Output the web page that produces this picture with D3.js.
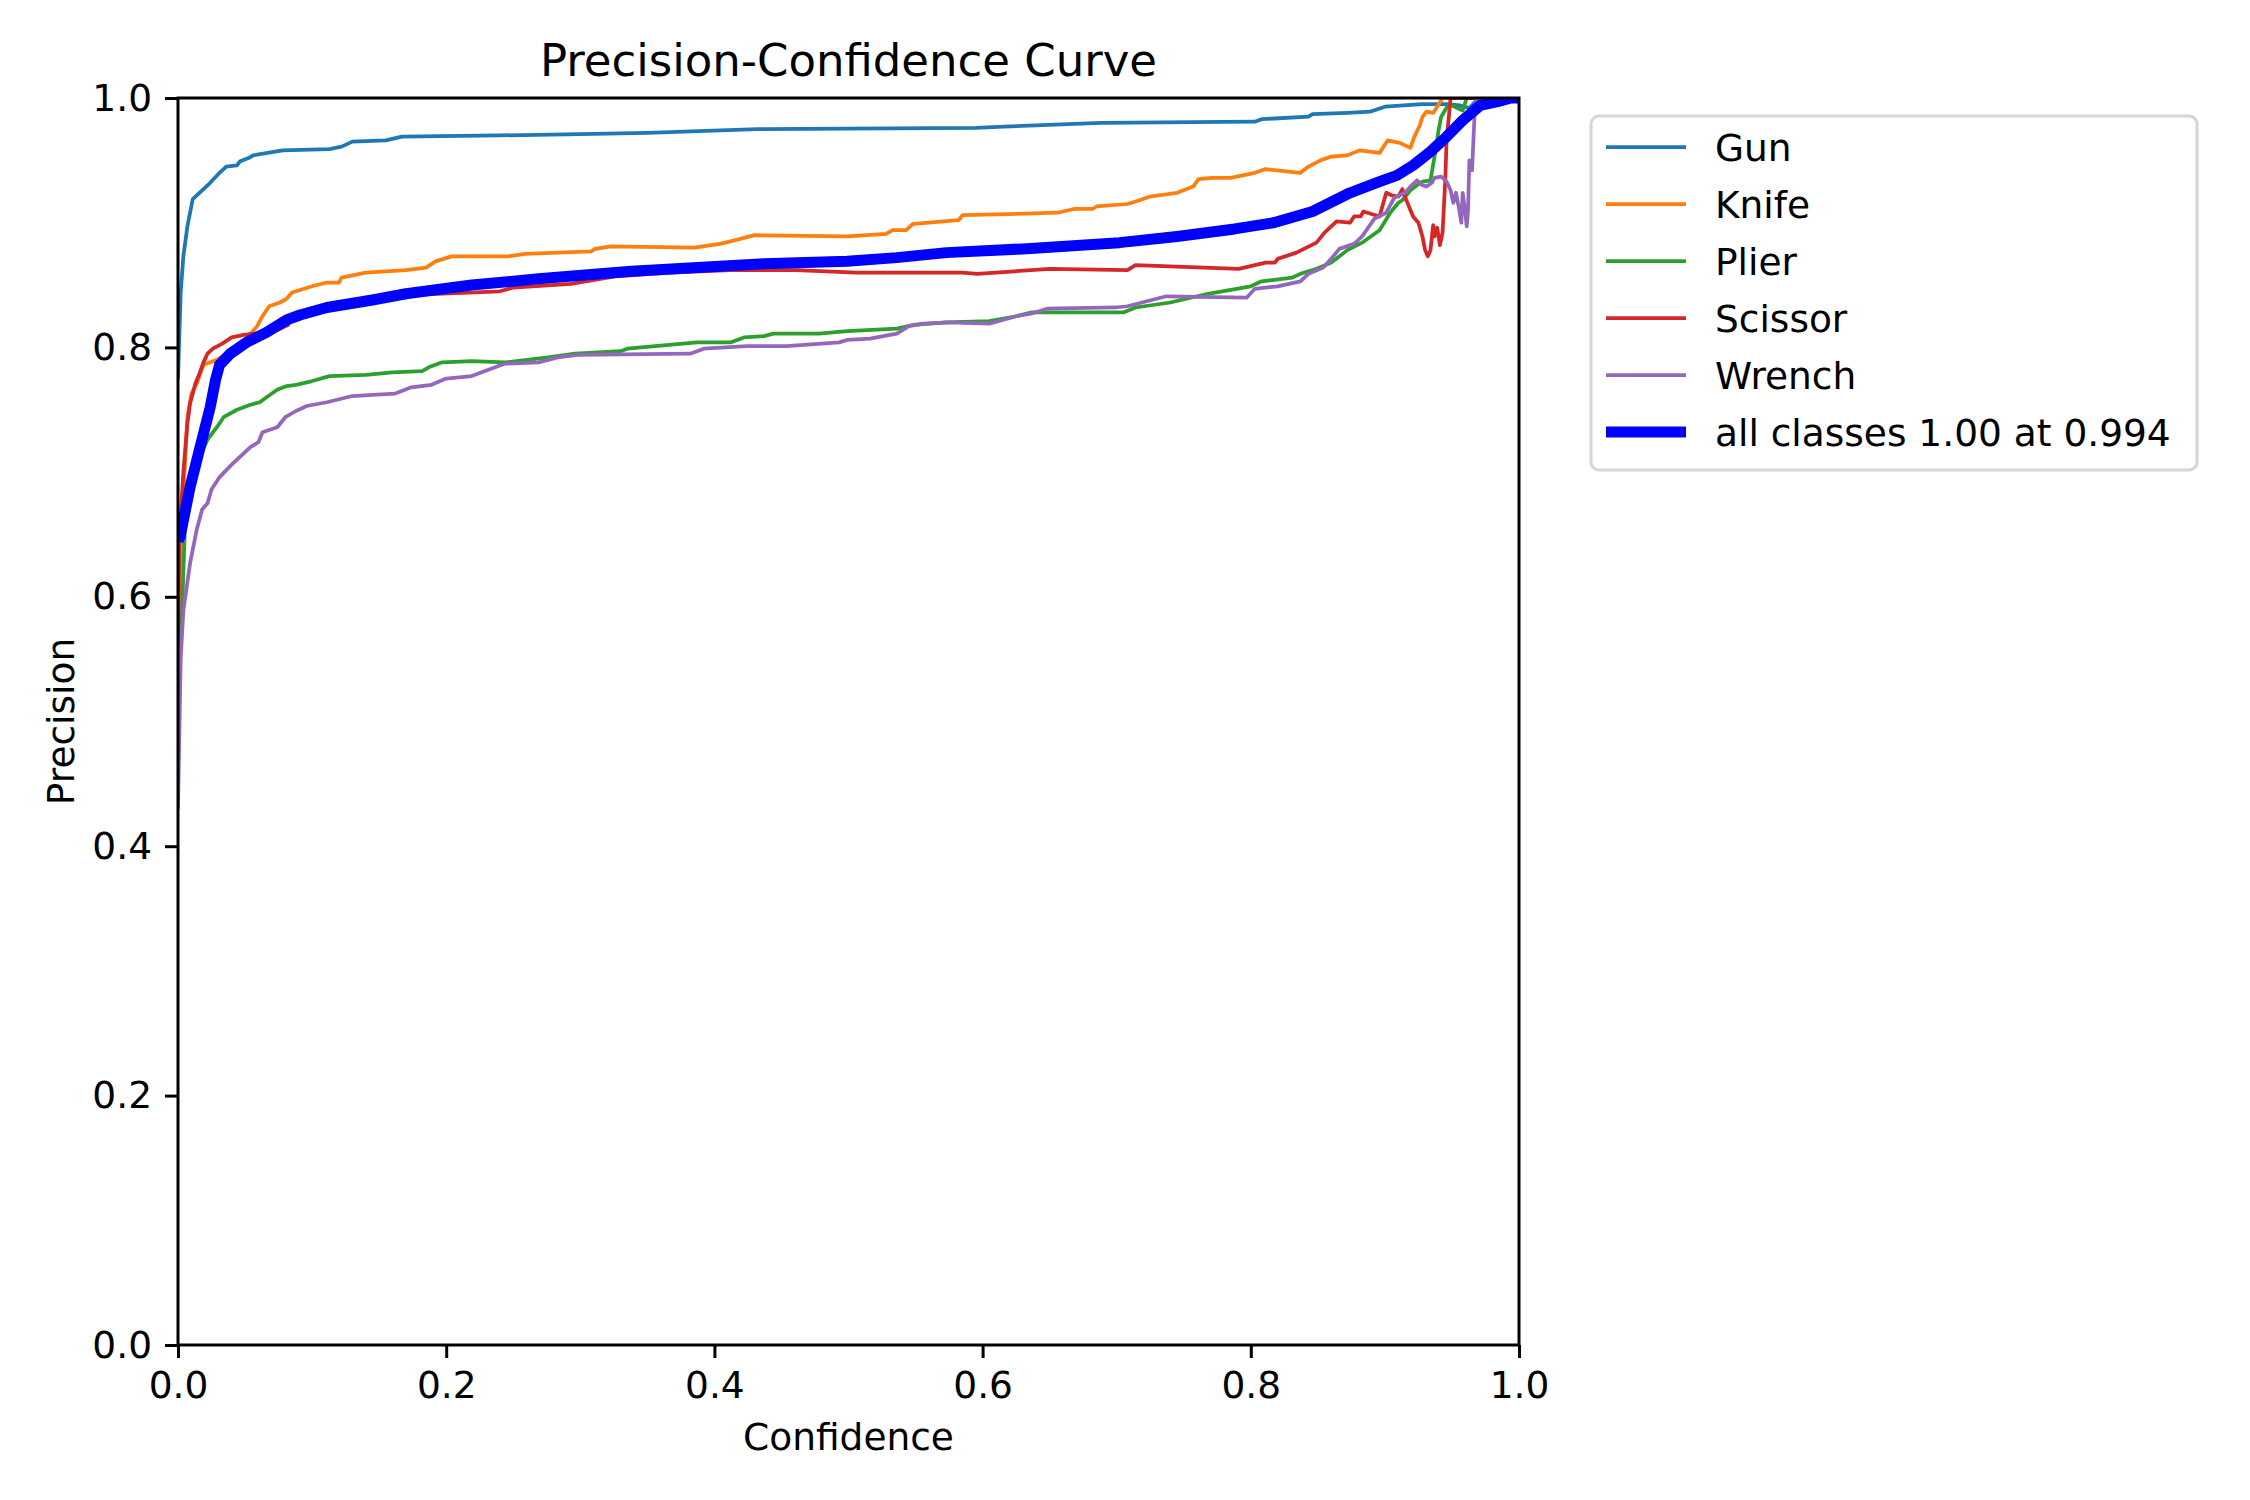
<!DOCTYPE html>
<html>
<head>
<meta charset="utf-8">
<script src="https://cdn.jsdelivr.net/npm/d3@7"></script>
<style>
  body { margin: 0; background: #fff; }
  text { font-family: "DejaVu Sans", sans-serif; fill: #000; }
</style>
</head>
<body>
<div id="chart"></div>
<script>
// Data: [confidence, precision]
var gun = [[0,0.775],[0.002,0.844],[0.004,0.873],[0.007,0.897],[0.011,0.919],[0.016,0.924],[0.024,0.932],[0.031,0.940],[0.036,0.945],[0.044,0.946],[0.046,0.949],[0.053,0.952],[0.056,0.954],[0.078,0.958],[0.113,0.959],[0.122,0.961],[0.130,0.965],[0.155,0.966],[0.167,0.969],[0.239,0.970],[0.30,0.971],[0.35,0.972],[0.432,0.975],[0.595,0.976],[0.616,0.977],[0.688,0.980],[0.803,0.981],[0.808,0.983],[0.843,0.985],[0.846,0.987],[0.872,0.988],[0.889,0.989],[0.900,0.993],[0.928,0.995],[0.946,0.995],[0.956,0.994],[0.963,0.992],[0.970,1.0],[1.0,1.0]];

var knife = [[0,0.58],[0.003,0.66],[0.007,0.744],[0.010,0.763],[0.014,0.771],[0.019,0.786],[0.024,0.788],[0.029,0.790],[0.04,0.797],[0.05,0.806],[0.059,0.817],[0.063,0.825],[0.068,0.833],[0.076,0.836],[0.081,0.839],[0.085,0.844],[0.100,0.849],[0.111,0.852],[0.120,0.852],[0.122,0.856],[0.140,0.860],[0.170,0.862],[0.185,0.864],[0.192,0.869],[0.204,0.873],[0.246,0.873],[0.259,0.875],[0.308,0.877],[0.311,0.879],[0.323,0.881],[0.385,0.880],[0.404,0.883],[0.412,0.885],[0.430,0.890],[0.499,0.889],[0.528,0.891],[0.533,0.894],[0.543,0.894],[0.548,0.899],[0.560,0.900],[0.582,0.902],[0.585,0.906],[0.656,0.908],[0.668,0.911],[0.682,0.911],[0.685,0.913],[0.708,0.915],[0.717,0.918],[0.725,0.921],[0.745,0.924],[0.757,0.929],[0.761,0.935],[0.771,0.936],[0.785,0.936],[0.794,0.938],[0.803,0.940],[0.811,0.943],[0.837,0.940],[0.843,0.945],[0.852,0.950],[0.860,0.953],[0.872,0.954],[0.881,0.958],[0.896,0.956],[0.902,0.966],[0.911,0.964],[0.919,0.960],[0.922,0.969],[0.926,0.978],[0.928,0.985],[0.931,0.989],[0.936,0.988],[0.939,0.993],[0.943,1.0],[1.0,1.0]];

var plier = [[0,0.52],[0.003,0.589],[0.005,0.651],[0.009,0.686],[0.016,0.712],[0.022,0.726],[0.029,0.736],[0.034,0.744],[0.044,0.750],[0.054,0.754],[0.061,0.756],[0.066,0.760],[0.074,0.766],[0.081,0.769],[0.088,0.770],[0.100,0.773],[0.113,0.777],[0.140,0.778],[0.160,0.780],[0.182,0.781],[0.187,0.784],[0.197,0.788],[0.219,0.789],[0.244,0.788],[0.276,0.792],[0.296,0.795],[0.330,0.797],[0.335,0.799],[0.387,0.804],[0.412,0.804],[0.422,0.808],[0.437,0.809],[0.444,0.811],[0.478,0.811],[0.499,0.813],[0.536,0.815],[0.548,0.818],[0.573,0.820],[0.605,0.821],[0.625,0.825],[0.636,0.828],[0.705,0.828],[0.714,0.832],[0.740,0.836],[0.768,0.843],[0.800,0.849],[0.808,0.853],[0.831,0.856],[0.837,0.859],[0.849,0.863],[0.860,0.868],[0.872,0.878],[0.883,0.884],[0.896,0.894],[0.904,0.908],[0.910,0.916],[0.913,0.918],[0.919,0.926],[0.924,0.930],[0.928,0.933],[0.934,0.934],[0.937,0.953],[0.940,0.974],[0.942,0.985],[0.947,0.994],[0.950,0.994],[0.954,0.992],[0.958,0.990],[0.961,1.0],[1.0,1.0]];

var scissor = [[0,0.56],[0.001,0.647],[0.004,0.70],[0.007,0.739],[0.009,0.755],[0.013,0.771],[0.016,0.779],[0.019,0.788],[0.022,0.795],[0.026,0.799],[0.033,0.803],[0.040,0.808],[0.049,0.810],[0.063,0.812],[0.074,0.814],[0.082,0.818],[0.085,0.823],[0.096,0.828],[0.120,0.836],[0.170,0.842],[0.240,0.845],[0.250,0.848],[0.293,0.851],[0.326,0.857],[0.367,0.860],[0.412,0.862],[0.461,0.862],[0.506,0.860],[0.585,0.860],[0.596,0.859],[0.650,0.863],[0.708,0.862],[0.714,0.866],[0.791,0.863],[0.811,0.868],[0.818,0.868],[0.820,0.871],[0.834,0.876],[0.849,0.884],[0.855,0.892],[0.864,0.901],[0.874,0.900],[0.877,0.905],[0.882,0.905],[0.884,0.909],[0.896,0.905],[0.901,0.924],[0.905,0.922],[0.910,0.921],[0.913,0.927],[0.916,0.918],[0.921,0.905],[0.925,0.900],[0.928,0.889],[0.930,0.878],[0.932,0.873],[0.934,0.878],[0.936,0.898],[0.937,0.889],[0.939,0.896],[0.941,0.882],[0.943,0.892],[0.945,0.934],[0.946,0.966],[0.949,1.0],[1.0,1.0]];

var wrench = [[0,0.43],[0.002,0.55],[0.004,0.589],[0.009,0.627],[0.014,0.654],[0.018,0.670],[0.022,0.675],[0.025,0.686],[0.031,0.696],[0.040,0.706],[0.046,0.712],[0.054,0.720],[0.060,0.724],[0.063,0.732],[0.074,0.736],[0.080,0.744],[0.088,0.749],[0.096,0.753],[0.111,0.756],[0.130,0.761],[0.145,0.762],[0.162,0.763],[0.174,0.768],[0.189,0.770],[0.200,0.775],[0.219,0.777],[0.244,0.787],[0.269,0.788],[0.283,0.792],[0.298,0.794],[0.382,0.795],[0.392,0.799],[0.424,0.801],[0.454,0.801],[0.493,0.804],[0.499,0.806],[0.516,0.807],[0.536,0.811],[0.545,0.817],[0.556,0.819],[0.575,0.820],[0.605,0.819],[0.625,0.825],[0.636,0.827],[0.648,0.831],[0.699,0.832],[0.708,0.833],[0.737,0.841],[0.797,0.840],[0.803,0.847],[0.820,0.849],[0.837,0.853],[0.843,0.859],[0.854,0.864],[0.860,0.871],[0.866,0.879],[0.877,0.883],[0.883,0.889],[0.892,0.903],[0.901,0.908],[0.907,0.920],[0.915,0.924],[0.920,0.930],[0.924,0.934],[0.928,0.930],[0.931,0.929],[0.935,0.932],[0.937,0.936],[0.942,0.937],[0.946,0.933],[0.949,0.926],[0.951,0.916],[0.953,0.924],[0.955,0.913],[0.957,0.900],[0.958,0.924],[0.960,0.908],[0.961,0.897],[0.962,0.910],[0.963,0.950],[0.965,0.942],[0.966,0.966],[0.967,0.990],[0.968,1.0],[1.0,1.0]];

var allClasses = [[0,0.645],[0.0015,0.648],[0.009,0.688],[0.016,0.718],[0.024,0.752],[0.028,0.774],[0.031,0.786],[0.039,0.795],[0.051,0.804],[0.066,0.812],[0.081,0.822],[0.091,0.826],[0.111,0.832],[0.145,0.838],[0.170,0.843],[0.219,0.850],[0.269,0.855],[0.338,0.861],[0.437,0.867],[0.499,0.869],[0.536,0.872],[0.573,0.876],[0.630,0.879],[0.702,0.884],[0.745,0.889],[0.788,0.895],[0.817,0.900],[0.846,0.909],[0.874,0.924],[0.896,0.933],[0.909,0.938],[0.921,0.946],[0.934,0.957],[0.946,0.969],[0.958,0.982],[0.971,0.994],[0.984,0.997],[0.994,1.0],[1.0,1.0]];

var classNames = ["Gun", "Knife", "Plier", "Scissor", "Wrench"];
var classColors = ["#1f77b4", "#ff7f0e", "#2ca02c", "#d62728", "#9467bd"];
var allLabel = "all classes 1.00 at 0.994";
var tickValues = [0, 0.2, 0.4, 0.6, 0.8, 1.0];

// SVG dimensions and margins
var svgWidth = 2250;
var svgHeight = 1500;
var margin = { top: 98, right: 731, bottom: 155, left: 178 };
var width = svgWidth - margin.left - margin.right;
var height = svgHeight - margin.top - margin.bottom;

var fontSize = 37.5;

var svg = d3.select("#chart")
  .append("svg")
  .attr("width", svgWidth)
  .attr("height", svgHeight)
  .style("background", "#fff");

var chartGroup = svg.append("g")
  .attr("transform", `translate(${margin.left}, ${margin.top})`);

// Scales
var xScale = d3.scaleLinear().domain([0, 1]).range([0, width]);
var yScale = d3.scaleLinear().domain([0, 1]).range([height, 0]);

// Clip lines to the plot area like matplotlib does
svg.append("defs").append("clipPath")
  .attr("id", "plot-clip")
  .append("rect")
  .attr("width", width)
  .attr("height", height);

var line = d3.line()
  .x(d => xScale(d[0]))
  .y(d => yScale(d[1]));

var series = [gun, knife, plier, scissor, wrench];

var linesGroup = chartGroup.append("g").attr("clip-path", "url(#plot-clip)");

linesGroup.selectAll("path.cls")
  .data(series)
  .enter()
  .append("path")
  .attr("class", "cls")
  .attr("d", line)
  .attr("fill", "none")
  .attr("stroke", (d, i) => classColors[i])
  .attr("stroke-width", 3.75)
  .attr("stroke-linejoin", "round");

linesGroup.append("path")
  .datum(allClasses)
  .attr("d", line)
  .attr("fill", "none")
  .attr("stroke", "#0000ff")
  .attr("stroke-width", 11)
  .attr("stroke-linejoin", "round");

// Axes
var bottomAxis = d3.axisBottom(xScale)
  .tickValues(tickValues)
  .tickFormat(d3.format(".1f"))
  .tickSize(13)
  .tickPadding(13);

var leftAxis = d3.axisLeft(yScale)
  .tickValues(tickValues)
  .tickFormat(d3.format(".1f"))
  .tickSize(13)
  .tickPadding(13);

var xAxisG = chartGroup.append("g")
  .attr("transform", `translate(0,${height})`)
  .call(bottomAxis);

var yAxisG = chartGroup.append("g")
  .call(leftAxis);

[xAxisG, yAxisG].forEach(function (g) {
  g.select(".domain").remove();
  g.selectAll(".tick line").attr("stroke", "#000").attr("stroke-width", 3);
  g.selectAll(".tick text")
    .attr("font-family", "DejaVu Sans")
    .attr("font-size", fontSize + "px")
    .attr("fill", "#000");
});

// Frame (spines)
chartGroup.append("rect")
  .attr("width", width)
  .attr("height", height)
  .attr("fill", "none")
  .attr("stroke", "#000")
  .attr("stroke-width", 3);

// Title and labels
chartGroup.append("text")
  .attr("x", width / 2)
  .attr("y", -22)
  .attr("text-anchor", "middle")
  .attr("font-size", "45px")
  .text("Precision-Confidence Curve");

chartGroup.append("text")
  .attr("x", width / 2)
  .attr("y", height + 105)
  .attr("text-anchor", "middle")
  .attr("font-size", fontSize + "px")
  .text("Confidence");

chartGroup.append("text")
  .attr("transform", "rotate(-90)")
  .attr("x", -height / 2)
  .attr("y", -104)
  .attr("text-anchor", "middle")
  .attr("font-size", fontSize + "px")
  .text("Precision");

// Legend
var legendItems = classNames.map((n, i) => ({ label: n, color: classColors[i], w: 3.75 }))
  .concat([{ label: allLabel, color: "#0000ff", w: 11 }]);

var legendX = 1591, legendY = 116, rowH = 57;
var legend = svg.append("g").attr("transform", `translate(${legendX}, ${legendY})`);

legend.append("rect")
  .attr("x", 0)
  .attr("y", 0)
  .attr("width", 606)
  .attr("height", 354)
  .attr("rx", 8)
  .attr("fill", "#fff")
  .attr("fill-opacity", 0.8)
  .attr("stroke", "#d6d6d6")
  .attr("stroke-width", 3);

var rows = legend.selectAll("g.row")
  .data(legendItems)
  .enter()
  .append("g")
  .attr("class", "row")
  .attr("transform", (d, i) => `translate(0, ${31 + i * rowH})`);

rows.append("line")
  .attr("x1", 15)
  .attr("x2", 95)
  .attr("stroke", d => d.color)
  .attr("stroke-width", d => d.w);

rows.append("text")
  .attr("x", 124)
  .attr("dy", "0.36em")
  .attr("font-size", fontSize + "px")
  .text(d => d.label);
</script>
</body>
</html>
